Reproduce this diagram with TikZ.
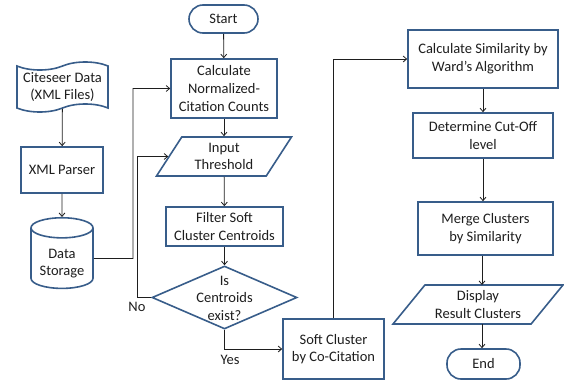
\documentclass[tikz,border=0pt]{standalone}
\usepackage{fontspec}
\setmainfont{Carlito}
\usetikzlibrary{shapes.geometric,shapes.symbols,arrows.meta}
\definecolor{edgeblue}{RGB}{56,93,138}
\definecolor{ink}{RGB}{30,30,30}
\begin{document}
\begin{tikzpicture}[x=1pt,y=-1pt,
  every node/.style={font=\fontsize{14.5}{17.6}\selectfont, text=ink, align=center, inner sep=0pt},
  box/.style={draw=edgeblue, line width=1.6pt, fill=white},
  procbox/.style={box, rectangle},
  termbox/.style={box, rectangle, rounded corners=14pt},
  iobox/.style={box, trapezium, trapezium stretches=true},
  decbox/.style={box, diamond},
  tapebox/.style={box, tape, tape bend top=in and out, tape bend bottom=in and out, tape bend height=8pt},
  storebox/.style={box, cylinder, shape border rotate=90, aspect=0.45},
  arr/.style={draw=ink, line width=0.8pt, -{Straight Barb[length=3.5pt,width=6pt]}},
  lbl/.style={font=\fontsize{14.5}{17.6}\selectfont}
]
\useasboundingbox (0,0) rectangle (564,380);

% left column: data preparation
\node[tapebox, minimum width=91pt, minimum height=50pt] (cite) at (62.5,87) {Citeseer Data\\(XML Files)};
\node[procbox, minimum width=82pt, minimum height=46pt] (xml) at (62,170) {XML Parser};
\node[storebox, minimum width=62pt, minimum height=61pt] (ds) at (62,258.5) {\\[2pt]Data\\Storage};

% middle column: soft clustering
\node[termbox, minimum width=69pt, minimum height=28pt] (start) at (223.5,19) {Start};
\node[procbox, minimum width=106pt, minimum height=59pt] (calc) at (224,88.5) {Calculate\\Normalized-\\Citation Counts};
\node[iobox, trapezium left angle=57, trapezium right angle=123, minimum width=136pt, minimum height=39pt] (thr) at (224,156.5) {Input\\Threshold};
\node[procbox, minimum width=117pt, minimum height=39pt] (filt) at (224.5,226.5) {Filter Soft\\Cluster Centroids};
\node[decbox, minimum width=145pt, minimum height=63pt] (dia) at (224.5,297.5) {};
\node (diatext) at (224.5,298) {Is\\Centroids\\exist?};
\node[procbox, minimum width=101pt, minimum height=60pt] (soft) at (333.5,349) {Soft Cluster\\by Co-Citation};

% right column: hierarchical merging
\node[procbox, minimum width=150pt, minimum height=58pt] (sim) at (483,59) {Calculate Similarity by\\Ward’s Algorithm};
\node[procbox, minimum width=140pt, minimum height=45pt] (cut) at (483,135.5) {Determine Cut-Off\\level};
\node[procbox, minimum width=135pt, minimum height=53pt] (merge) at (485.5,228.5) {Merge Clusters\\by Similarity};
\node[iobox, trapezium left angle=47, trapezium right angle=133, minimum width=170pt, minimum height=39pt] (disp) at (478,304.5) {Display\\Result Clusters};
\node[termbox, minimum width=73pt, minimum height=30pt] (end) at (483.5,364) {End};

% connectors
\draw[arr] (cite) -- (xml);
\draw[arr] (xml) -- (ds);
\draw[arr] (ds.east) -- (133,258.5) |- (calc);
\draw[arr] (start) -- (calc);
\draw[arr] (calc) -- (thr);
\draw[arr] (thr) -- (filt);
\draw[arr] (filt) -- (dia);
\draw[arr] (dia.west) -- (137,297.5) |- (thr);
\draw[arr] (dia.south) |- (soft);
\draw[arr] (soft.north) |- (sim);
\draw[arr] (sim) -- (cut);
\draw[arr] (cut) -- (cut |- merge.north);
\draw[arr] (merge.south -| 482,0) -- (482,285);
\draw[arr] (482,324) -- (end.north -| 482,0);

% branch labels
\node[lbl] (no) at (137,307) {No};
\node[lbl] (yes) at (230,360) {Yes};
\end{tikzpicture}
\end{document}
